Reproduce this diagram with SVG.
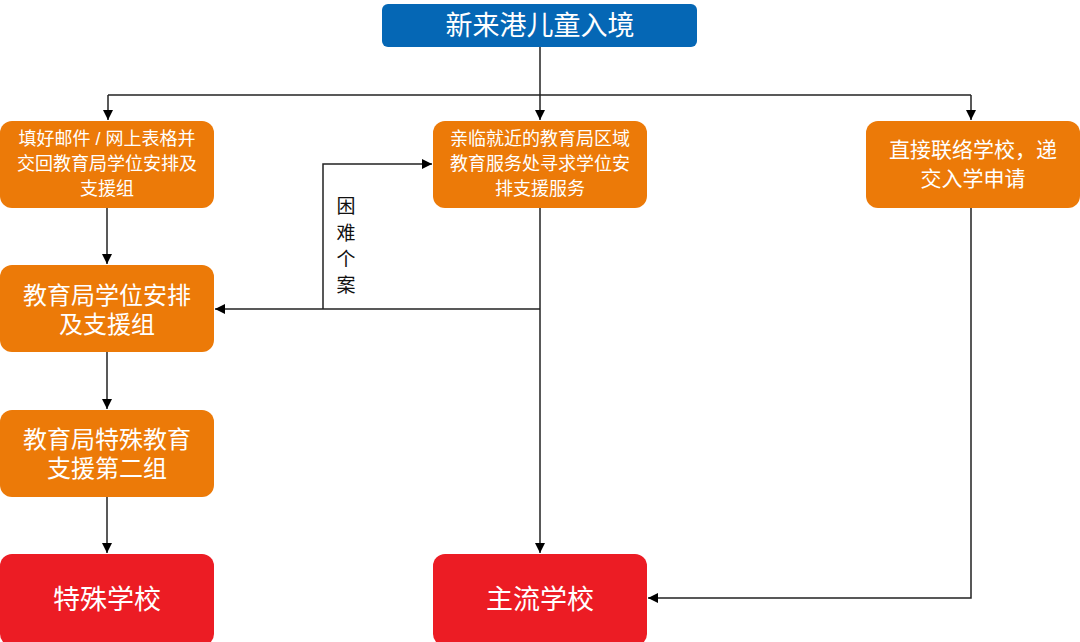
<svg xmlns="http://www.w3.org/2000/svg" width="1080" height="642" viewBox="0 0 1080 642">
<defs>
<marker id="ah" viewBox="0 0 10 10" refX="10" refY="5" markerWidth="10" markerHeight="10" markerUnits="userSpaceOnUse" orient="auto">
<path d="M0,0 L10,5 L0,10 z" fill="#000"/>
</marker>
<style>
text{font-family:"Liberation Sans","Noto Sans CJK SC",sans-serif;fill:#fff;text-anchor:middle}
.blue{fill:#0567b5}
.orange{fill:#ec7a08}
.red{fill:#ec1c24}
.ln{fill:none;stroke:#222;stroke-width:1.5;marker-end:url(#ah)}
.ln2{fill:none;stroke:#222;stroke-width:1.5}
.lbl{fill:#111;font-size:19px}
</style>
</defs>
<rect width="1080" height="642" fill="#fff"/>
<g id="connectors">
<path class="ln" d="M540,47 V120"/>
<path class="ln2" d="M108,95 H971"/>
<path class="ln" d="M108,95 V120"/>
<path class="ln" d="M971,95 V120"/>
<path class="ln" d="M107,208 V264"/>
<path class="ln" d="M540,208 V553"/>
<path class="ln" d="M540,309 H215"/>
<path class="ln" d="M323,309 V164 H432"/>
<path class="ln" d="M107,352 V409"/>
<path class="ln" d="M107,497 V553"/>
<path class="ln" d="M971,208 V598 H648"/>
<text class="lbl" x="346" y="213">困</text>
<text class="lbl" x="346" y="240">难</text>
<text class="lbl" x="346" y="266">个</text>
<text class="lbl" x="346" y="292">案</text>
</g>
<g id="n-start">
<rect class="blue" x="382" y="4" width="315" height="43" rx="6"/>
<text x="540" y="35" font-size="27">新来港儿童入境</text>
</g>
<g id="n-form">
<rect class="orange" x="0" y="121" width="214" height="87" rx="12"/>
<text x="107" y="145" font-size="18">填好邮件 / 网上表格并</text>
<text x="107" y="170" font-size="18">交回教育局学位安排及</text>
<text x="107" y="195" font-size="18">支援组</text>
</g>
<g id="n-visit">
<rect class="orange" x="433" y="121" width="214" height="87" rx="12"/>
<text x="540" y="145" font-size="18">亲临就近的教育局区域</text>
<text x="540" y="170" font-size="18">教育服务处寻求学位安</text>
<text x="540" y="195" font-size="18">排支援服务</text>
</g>
<g id="n-direct">
<rect class="orange" x="866" y="121" width="214" height="87" rx="12"/>
<text x="973" y="157" font-size="21">直接联络学校，递</text>
<text x="973" y="186" font-size="21">交入学申请</text>
</g>
<g id="n-group">
<rect class="orange" x="0" y="265" width="214" height="87" rx="12"/>
<text x="107" y="304" font-size="24">教育局学位安排</text>
<text x="107" y="333" font-size="24">及支援组</text>
</g>
<g id="n-special">
<rect class="orange" x="0" y="410" width="214" height="87" rx="12"/>
<text x="107" y="448" font-size="24">教育局特殊教育</text>
<text x="107" y="477" font-size="24">支援第二组</text>
</g>
<g id="n-specialschool">
<rect class="red" x="0" y="554" width="214" height="92" rx="12"/>
<text x="107" y="609" font-size="27">特殊学校</text>
</g>
<g id="n-mainstream">
<rect class="red" x="433" y="554" width="214" height="92" rx="12"/>
<text x="540" y="609" font-size="27">主流学校</text>
</g>
</svg>
